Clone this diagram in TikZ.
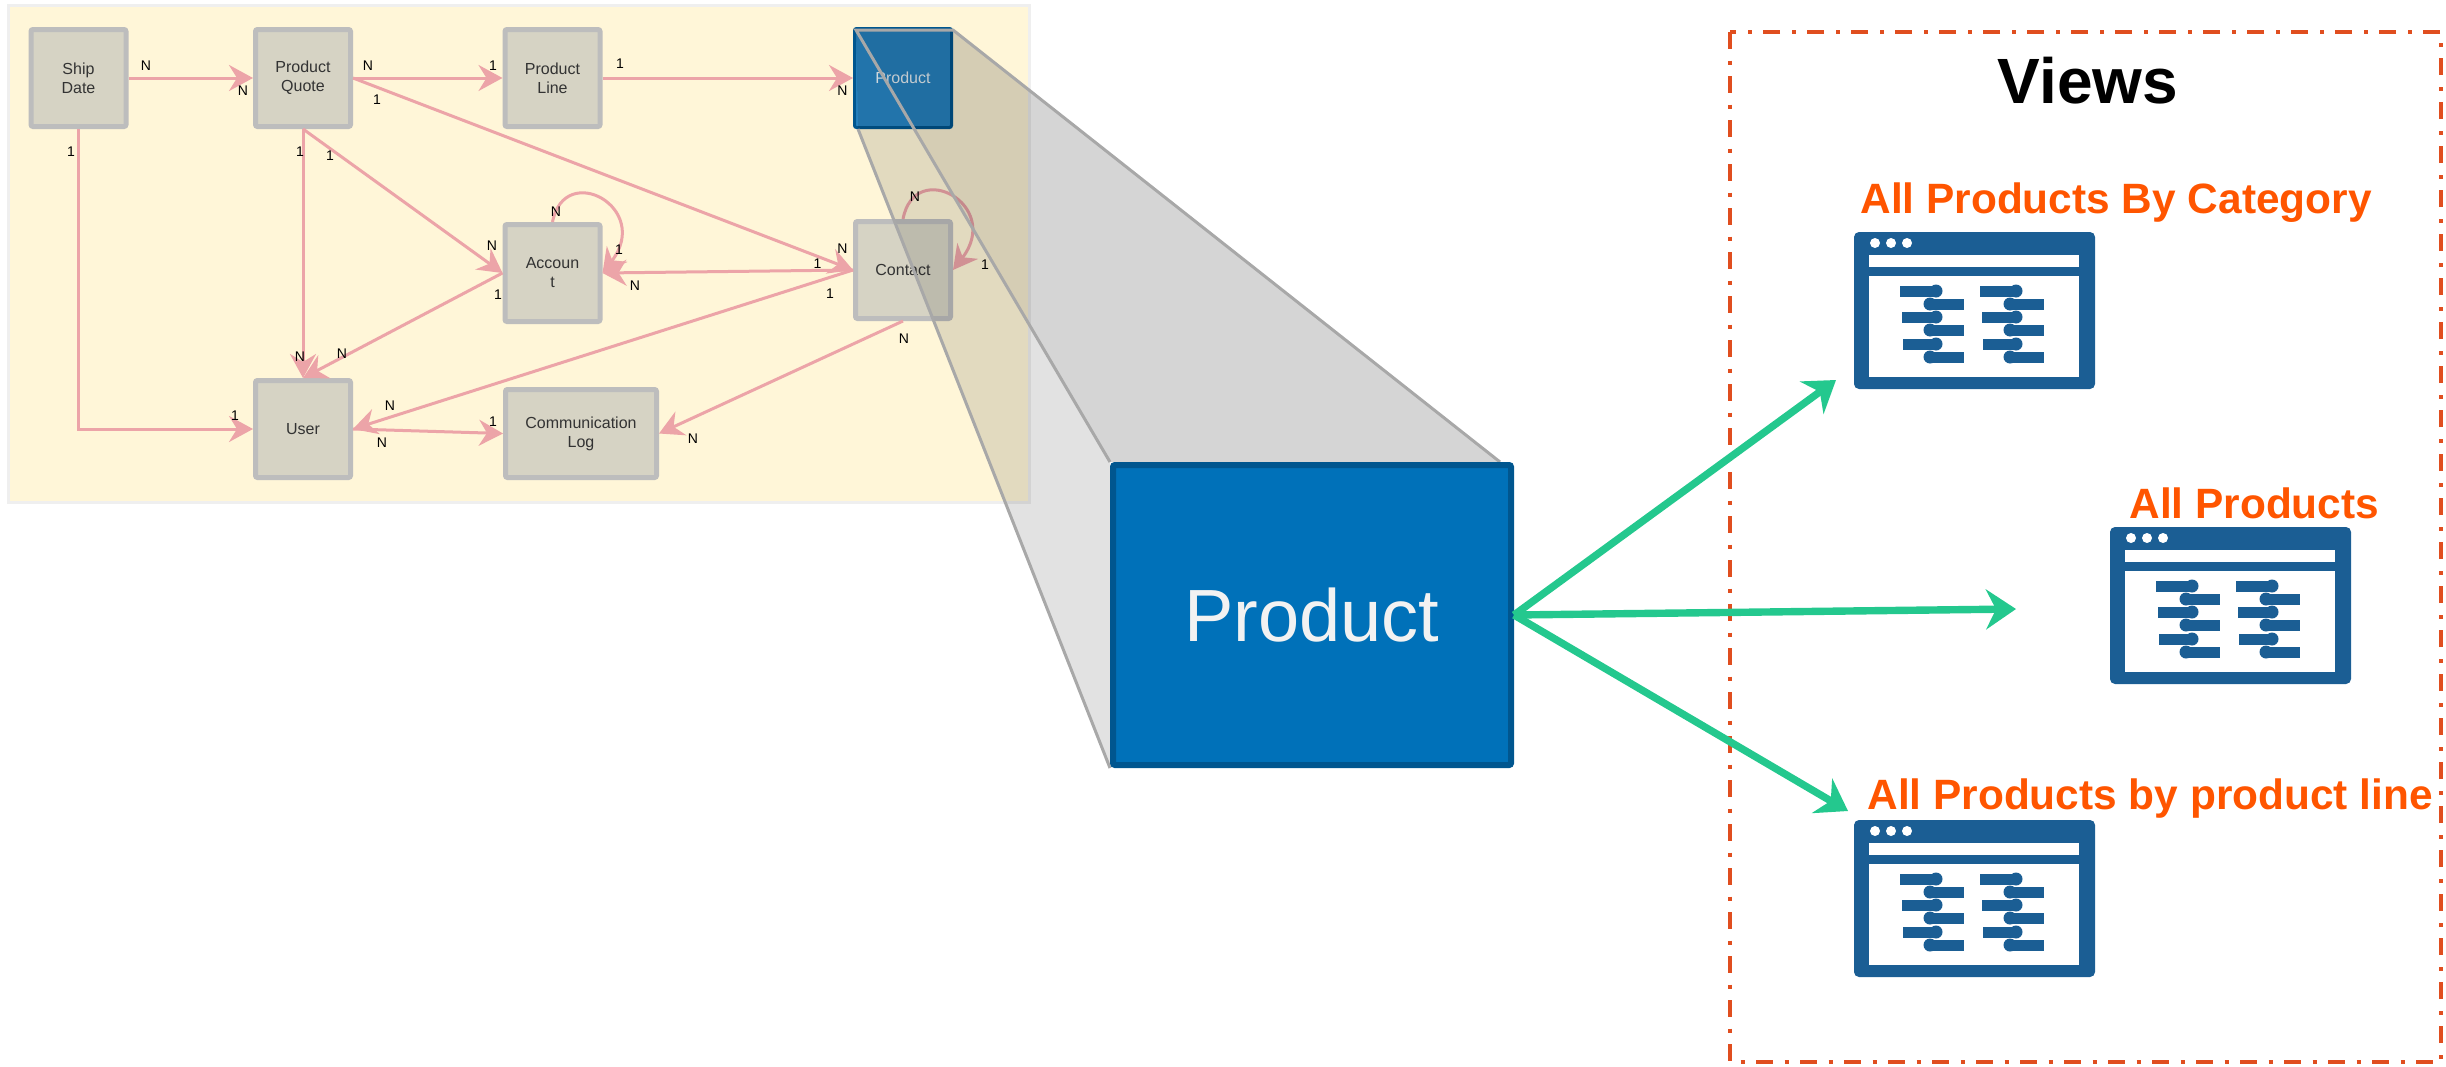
\documentclass[tikz,border=0pt]{standalone}
\usepackage{fontspec}
\setmainfont{Liberation Sans}
\usetikzlibrary{arrows.meta}

\definecolor{sheet}{HTML}{FFF6D8}
\definecolor{sheetedge}{HTML}{EFEFEF}
\definecolor{boxfill}{HTML}{D6D3C4}
\definecolor{boxedge}{HTML}{BDBDBD}
\definecolor{linkpink}{HTML}{ECA4A8}
\definecolor{fanedge}{HTML}{A8A8A8}
\definecolor{bigfill}{HTML}{0071B9}
\definecolor{bigedge}{HTML}{00568F}
\definecolor{smallfill}{HTML}{2784C2}
\definecolor{viewgreen}{HTML}{24C88E}
\definecolor{viewred}{HTML}{E04E1F}
\definecolor{viewtitle}{HTML}{FF5500}
\definecolor{iconblue}{HTML}{1B5E94}

\begin{document}
\begin{tikzpicture}[x=0.5pt, y=-0.5pt]
    \tikzset{
        entity/.style={draw=boxedge, fill=boxfill, line width=2.5pt, rounded corners=1pt, minimum width=47.5pt, minimum height=48.5pt, inner sep=0pt, align=center, text=black!80, font=\fontsize{8}{9.5}\selectfont},
        cardlabel/.style={inner sep=0pt, font=\fontsize{7}{8}\selectfont},
        link/.style={draw=linkpink, line width=1.5pt, -{Stealth[length=12pt, width=13pt, inset=4pt]}},
        viewlink/.style={draw=viewgreen, line width=3.7pt, -{Stealth[length=15pt, width=20pt, inset=5pt]}},
        viewname/.style={anchor=base west, inner sep=0pt, text=viewtitle, font=\fontsize{21.2}{24}\selectfont\bfseries},
        viewicon/.pic={
            \fill [iconblue, rounded corners=2.5pt] (0,0) rectangle (241,157);
            \foreach \dotx in {21,37,53}
                \fill [white] (\dotx,11) circle [radius=5];
            \fill [white] (15,23) rectangle (225,35);
            \fill [white] (15,44) rectangle (225,145);
            \foreach \colx in {0,80} {
                \foreach \rowy/\barx in {59/46,85/48,112/49} {
                    \fill [iconblue] (\colx+\barx,\rowy-5.5) rectangle (\colx+82,\rowy+5.5);
                    \fill [iconblue] (\colx+82,\rowy) circle [radius=6.5];
                }
                \foreach \rowy in {72,98,125} {
                    \fill [iconblue] (\colx+76,\rowy-5.5) rectangle (\colx+110,\rowy+5.5);
                    \fill [iconblue] (\colx+76,\rowy) circle [radius=6.5];
                }
            }
        }
    }
    \useasboundingbox (0,0) rectangle (2446,1066);

    \draw [sheetedge, fill=sheet, line width=1.5pt] (8,5) rectangle (1029,502);

    \node [entity] (shipdate) at (78.5,78) {Ship\\Date};
    \node [entity] (quote) at (303,78) {Product\\Quote};
    \node [entity] (productline) at (552.5,78) {Product\\Line};
    \node [entity, draw=bigedge, fill=smallfill, line width=1.5pt, minimum width=48.5pt, minimum height=49.5pt, text=white!90!smallfill] (product) at (903,78) {\raisebox{-1pt}{Product}};
    \node [entity] (account) at (552.5,273) {Accoun\\t};
    \node [entity] (contact) at (903,270) {Contact};
    \node [entity] (user) at (303,429) {User};
    \node [entity, minimum width=75.5pt, minimum height=44pt] (commlog) at (581,433.5) {Communication\\Log};

    \draw [link] (shipdate.east) -- (quote.west);
    \draw [link] (quote.east) -- (productline.west);
    \draw [link] (productline.east) -- (product.west);
    \draw [link] (shipdate.south) |- (user.west);
    \draw [link] (quote.south) -- (user.north);
    \draw [link] (quote.south) -- (account.west);
    \draw [link] (account.west) -- (user.north);
    \draw [link] (quote.east) -- (contact.west);
    \draw [link] (contact.west) -- (account.east);
    \draw [link] (contact.west) -- (user.east);
    \draw [link] (user.east) -- (commlog.west);
    \draw [link] (contact.south) -- (commlog.east);
    \draw [link] (account.north) .. controls +(12,-62) and +(50,-65) .. (account.east);
    \draw [link] (contact.north) .. controls +(12,-62) and +(50,-65) .. (contact.east);

    \foreach \px/\py/\txt [count=\i] in {146/66/N, 243/91/N, 368/66/N, 377/100/1, 493/66/1, 71/152/1, 300/152/1, 330/156/1,
        492/246/N, 498/295/1, 300/357/N, 342/354/N, 235/416/1, 390/406/N, 382/443/N, 493/422/1,
        620/64/1, 842.5/91/N, 556/212/N, 619/250/1, 635/286/N, 817.5/264/1, 842.5/249/N, 830/294/1,
        915/197/N, 985/265/1, 904/339/N, 693/439/N}
        \node [cardlabel] (card\i) at (\px,\py) {\txt};

    % funnel from the small box to the large one
    \fill [black, opacity=0.165] (856,30) -- (953,30) -- (1500,462) -- (1110,462) -- cycle;
    \fill [black, opacity=0.115] (856,30) -- (1110,462) -- (1110,768) -- (858,129) -- cycle;
    \draw [fanedge, line width=1.5pt] (858,129) -- (1110,768);
    \draw [fanedge, line width=1.5pt] (1110,462) -- (856,30) -- (953,30) -- (1500,462);

    \node [draw=bigedge, fill=bigfill, line width=3pt, rounded corners=1pt, minimum width=199pt, minimum height=150pt, text=white!95!black, font=\fontsize{37}{40}\selectfont] (bigproduct) at (1312,615) {Product};

    \draw [viewred, line width=2pt, dash pattern=on 8.5pt off 5.75pt on 2pt off 5.75pt] (1730,32) rectangle (2441,1062);
    \node [inner sep=0pt, font=\fontsize{32}{36}\selectfont\bfseries] (views) at (2088,81) {Views};

    \node [viewname] (bycategory) at (1860,213) {All Products By Category};
    \node [viewname] (allproducts) at (2129,518) {All Products};
    \node [viewname] (byline) at (1867,809) {All Products by product line};

    \pic at (1854,232) {viewicon};
    \pic at (2110,527) {viewicon};
    \pic at (1854,820) {viewicon};

    \coordinate (categorytip) at (1836,380);
    \coordinate (alltip) at (2016,609);
    \coordinate (linetip) at (1848,811);
    \draw [viewlink] (bigproduct.east) -- (categorytip);
    \draw [viewlink] (bigproduct.east) -- (alltip);
    \draw [viewlink] (bigproduct.east) -- (linetip);

\end{tikzpicture}
\end{document}
